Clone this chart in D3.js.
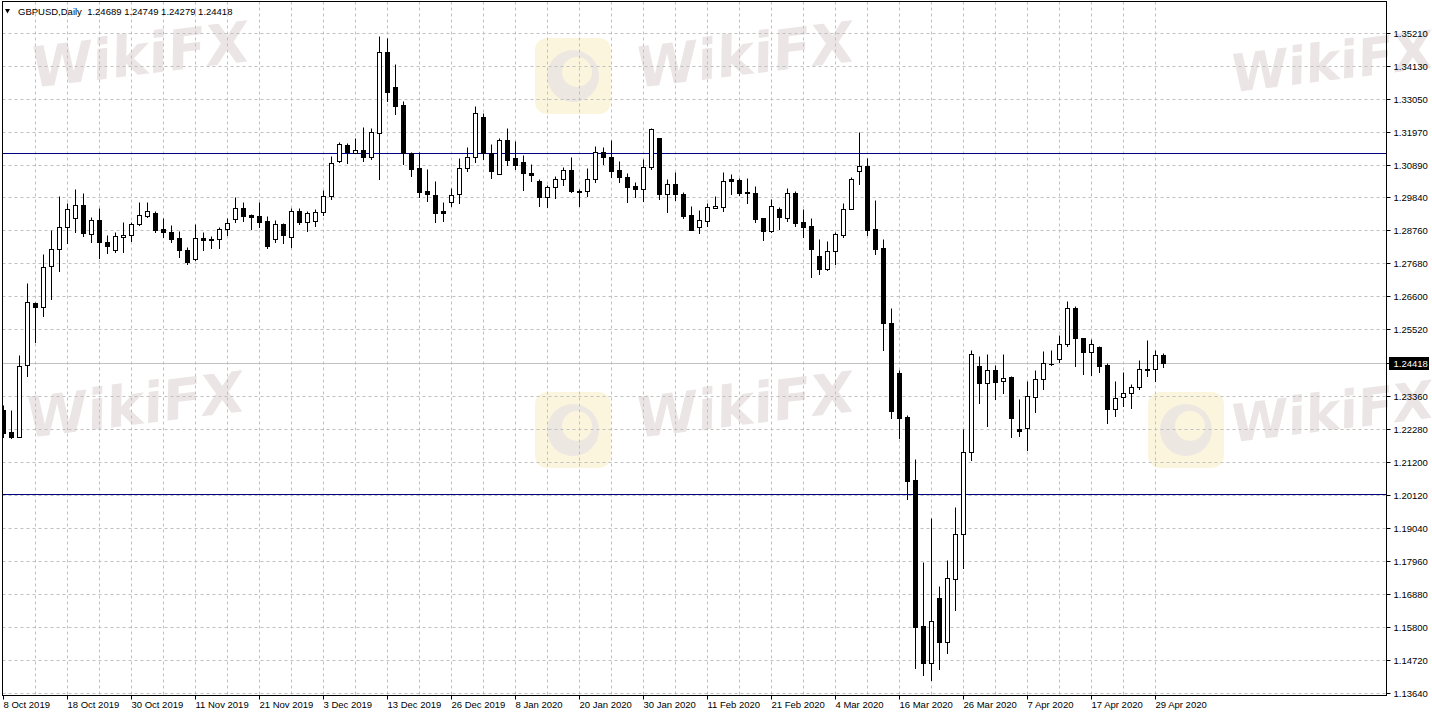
<!DOCTYPE html>
<html><head><meta charset="utf-8">
<script src="https://cdn.jsdelivr.net/npm/d3@7"></script>
<style>html,body{margin:0;padding:0;background:#fff;overflow:hidden}</style>
</head><body><svg id="c" width="1432" height="717"></svg>
<script>
// ---------- data ----------
const symbol = "GBPUSD", timeframe = "Daily";
const opens = [1.2289,1.2217,1.2202,1.2436,1.2638,1.2625,1.2759,1.2814,1.2886,1.2916,1.2959,1.2863,1.2910,1.2838,1.2812,1.2853,1.2860,1.2896,1.2924,1.2932,1.2880,1.2871,1.2850,1.2811,1.2783,1.2850,1.2847,1.2847,1.2880,1.2912,1.2948,1.2926,1.2923,1.2906,1.2847,1.2896,1.2855,1.2940,1.2903,1.2908,1.2937,1.2989,1.3103,1.3154,1.3130,1.3138,1.3117,1.3195,1.3458,1.3343,1.3286,1.3128,1.3080,1.3005,1.2992,1.2938,1.2970,1.2994,1.3079,1.3115,1.3245,1.3128,1.3059,1.3171,1.3111,1.3099,1.3062,1.3038,1.2986,1.3017,1.3043,1.3073,1.3006,1.3005,1.3043,1.3131,1.3115,1.3073,1.3049,1.3020,1.3010,1.3084,1.3177,1.2994,1.3026,1.2995,1.2925,1.2888,1.2908,1.2950,1.2953,1.3044,1.3041,1.3002,1.2999,1.2916,1.2875,1.2946,1.2916,1.2999,1.2903,1.2890,1.2792,1.2751,1.2809,1.2861,1.2945,1.3071,1.3086,1.2880,1.2817,1.2572,1.2409,1.2265,1.2060,1.1583,1.1463,1.1674,1.1532,1.1736,1.1883,1.2151,1.2432,1.2378,1.2420,1.2385,1.2398,1.2227,1.2229,1.2332,1.2389,1.2438,1.2455,1.2504,1.2621,1.2523,1.2479,1.2494,1.2436,1.2291,1.2330,1.2343,1.2363,1.2420,1.2422,1.24689];
const highs = [1.2305,1.2289,1.2469,1.2703,1.2643,1.2799,1.2876,1.2988,1.2964,1.3011,1.2997,1.2919,1.2948,1.2861,1.2872,1.2902,1.2904,1.2970,1.2970,1.2938,1.2916,1.2894,1.2875,1.2821,1.2896,1.2871,1.2857,1.2888,1.2916,1.2984,1.2968,1.2928,1.2968,1.2924,1.2910,1.2901,1.2948,1.2948,1.2940,1.2945,1.3008,1.3119,1.3164,1.3162,1.3177,1.3213,1.3211,1.3511,1.3504,1.3419,1.3299,1.3131,1.3131,1.3077,1.3038,1.2968,1.3013,1.3111,1.3150,1.3282,1.3261,1.3158,1.3177,1.3210,1.3169,1.3122,1.3093,1.3044,1.3024,1.3054,1.3082,1.3115,1.3012,1.3079,1.3152,1.3147,1.3171,1.3103,1.3062,1.3033,1.3108,1.3210,1.3179,1.3043,1.3068,1.3001,1.2955,1.2943,1.2964,1.2988,1.3068,1.3060,1.3046,1.3048,1.3021,1.2916,1.2978,1.2951,1.3014,1.3006,1.2946,1.2916,1.2848,1.2841,1.2870,1.2966,1.3051,1.3198,1.3111,1.2975,1.2847,1.2621,1.2420,1.2272,1.2128,1.1793,1.1935,1.1714,1.1799,1.1973,1.2227,1.2485,1.2465,1.2472,1.2436,1.2472,1.2400,1.2325,1.2385,1.2420,1.2482,1.2485,1.2534,1.2645,1.2629,1.2523,1.2521,1.2498,1.2444,1.2385,1.2414,1.2373,1.2452,1.2518,1.2485,1.24749];
const lows = [1.2201,1.2197,1.2201,1.2401,1.2512,1.2597,1.2653,1.2744,1.2836,1.2870,1.2858,1.2839,1.2785,1.2801,1.2806,1.2804,1.2842,1.2894,1.2921,1.2872,1.2855,1.2839,1.2790,1.2765,1.2779,1.2812,1.2817,1.2819,1.2861,1.2904,1.2908,1.2880,1.2888,1.2819,1.2837,1.2834,1.2823,1.2896,1.2875,1.2891,1.2926,1.2978,1.3100,1.3097,1.3128,1.3104,1.3108,1.3045,1.3299,1.3255,1.3093,1.3055,1.2986,1.2972,1.2902,1.2908,1.2957,1.2964,1.3071,1.3100,1.3109,1.3048,1.3059,1.3090,1.3076,1.3008,1.3038,1.2957,1.2951,1.2981,1.3024,1.3002,1.2957,1.2989,1.3033,1.3093,1.3049,1.3035,1.2970,1.2986,1.2973,1.3077,1.2978,1.2937,1.2975,1.2917,1.2877,1.2868,1.2890,1.2948,1.2940,1.2995,1.2992,1.2966,1.2904,1.2844,1.2872,1.2880,1.2908,1.2890,1.2855,1.2722,1.2733,1.2746,1.2766,1.2855,1.2945,1.3028,1.2861,1.2799,1.2485,1.2264,1.2198,1.1998,1.1447,1.1423,1.1406,1.1442,1.1494,1.1635,1.1773,1.2126,1.2313,1.2236,1.2325,1.2343,1.2202,1.2205,1.2158,1.2283,1.2356,1.2436,1.2447,1.2498,1.2434,1.2406,1.2403,1.2412,1.2245,1.2270,1.2303,1.2295,1.2356,1.2401,1.2385,1.24279];
const closes = [1.2214,1.2201,1.2434,1.2643,1.2625,1.2757,1.2814,1.2886,1.2945,1.2959,1.2866,1.2910,1.2837,1.2826,1.2857,1.2860,1.2896,1.2925,1.2938,1.2877,1.2872,1.2849,1.2811,1.2774,1.2850,1.2844,1.2844,1.2880,1.2899,1.2948,1.2924,1.2921,1.2904,1.2825,1.2896,1.2860,1.2940,1.2902,1.2932,1.2937,1.2989,1.3097,1.3157,1.3133,1.3138,1.3117,1.3196,1.3458,1.3329,1.3283,1.3128,1.3077,1.3002,1.2995,1.2934,1.2934,1.2992,1.3079,1.3116,1.3259,1.3128,1.3071,1.3171,1.3106,1.3091,1.3064,1.3058,1.2986,1.3017,1.3043,1.3073,1.3005,1.3001,1.3043,1.3131,1.3115,1.3069,1.3051,1.3019,1.3010,1.3084,1.3206,1.2994,1.3026,1.2994,1.2923,1.2878,1.2910,1.2951,1.2956,1.3037,1.3038,1.2999,1.2997,1.2913,1.2875,1.2956,1.2919,1.2997,1.2901,1.2888,1.2816,1.2749,1.2809,1.2864,1.2945,1.3043,1.3086,1.2877,1.2816,1.2572,1.2287,1.2264,1.2058,1.1581,1.1463,1.1599,1.1532,1.1739,1.1883,1.2151,1.2471,1.2378,1.2420,1.2382,1.2394,1.2264,1.2221,1.2335,1.2389,1.2442,1.2440,1.2504,1.2621,1.2523,1.2479,1.2504,1.2434,1.2291,1.2327,1.2343,1.2363,1.2422,1.2422,1.2468,1.24418];
const priceTicks = [1.35210,1.34130,1.33050,1.31970,1.30890,1.29840,1.28760,1.27680,1.26600,1.25520,1.23360,1.22280,1.21200,1.20120,1.19040,1.17960,1.16880,1.15800,1.14720,1.13640];
const dateTicks = ["8 Oct 2019","18 Oct 2019","30 Oct 2019","11 Nov 2019","21 Nov 2019","3 Dec 2019","13 Dec 2019","26 Dec 2019","8 Jan 2020","20 Jan 2020","30 Jan 2020","11 Feb 2020","21 Feb 2020","4 Mar 2020","16 Mar 2020","26 Mar 2020","7 Apr 2020","17 Apr 2020","29 Apr 2020"];
const levelLines = [1.3128, 1.2015];
const holidays = ["2019-12-25","2020-01-01"];
const firstDay = "2019-10-08";

// trading-day categories (weekdays, minus market holidays)
const fmt = d3.timeFormat("%-d %b %Y"), iso = d3.timeFormat("%Y-%m-%d");
const dates = [];
for (let d = d3.timeParse("%Y-%m-%d")(firstDay); dates.length < opens.length; d = d3.timeDay.offset(d, 1)) {
  const wd = d.getDay();
  if (wd === 0 || wd === 6 || holidays.includes(iso(d))) continue;
  dates.push(fmt(d));
}
const bars = dates.map((d, i) => ({d, o: opens[i], h: highs[i], l: lows[i], c: closes[i], i}));
const last = bars[bars.length - 1];

// ---------- layout ----------
const L = 2.5, R = 1386.5, T = 1.5, B = 695.5;
const FONT = "'Liberation Sans', Arial, sans-serif";
const svg = d3.select("#c");
const x = d3.scaleBand().domain(dates).range([-0.5, -0.5 + 8 * dates.length]).padding(0);
const cx = d => x(d) + x.bandwidth() / 2;
const y = d3.scaleLinear().domain([1.13640, 1.35210]).range([693, 33]);
const py = v => Math.round(y(v)) + 0.5;

svg.append("rect").attr("width", 1432).attr("height", 717).attr("fill", "#fff");

// watermark
const wm = svg.append("g").attr("pointer-events", "none");
[[140,55,56],[745,55,56],[1332,62,52],[135,405,56],[745,405,56],[1332,412,52]].forEach(([a,b,s]) => {
  wm.append("text").attr("transform", `translate(${a},${b}) rotate(-7) skewX(-8)`)
    .attr("text-anchor", "middle").attr("dominant-baseline", "central")
    .attr("font-family", "'DejaVu Sans', sans-serif").attr("font-weight", "bold").attr("font-size", s)
    .attr("fill", "#ebe5e5").text("WikiFX");
});
[[535,38],[535,392],[1148,392]].forEach(([a,b]) => {
  wm.append("rect").attr("x", a).attr("y", b).attr("width", 76).attr("height", 76).attr("rx", 12).attr("fill", "#fcf5de");
  wm.append("circle").attr("cx", a + 38).attr("cy", b + 38).attr("r", 26).attr("fill", "#ece7e1");
  wm.append("circle").attr("cx", a + 42).attr("cy", b + 34).attr("r", 15).attr("fill", "#fcf5de");
});

const plot = svg.append("g");
plot.append("clipPath").attr("id", "clip").append("rect").attr("x", L).attr("y", T).attr("width", R - L).attr("height", B - T);
const g = plot.append("g").attr("clip-path", "url(#clip)");

// grid
g.selectAll(".hg").data(priceTicks).join("line")
  .attr("x1", L).attr("x2", R).attr("y1", d => py(d)).attr("y2", d => py(d))
  .attr("stroke", "#c0c0c0").attr("stroke-dasharray", "3,3");
g.selectAll(".vg").data(bars.filter(b => b.i % 4 === 0 && b.i > 0)).join("line")
  .attr("x1", b => cx(b.d)).attr("x2", b => cx(b.d)).attr("y1", T).attr("y2", B)
  .attr("stroke", "#c0c0c0").attr("stroke-dasharray", "3,3");

// current price line & level lines
g.append("line").attr("x1", L).attr("x2", R).attr("y1", py(last.c)).attr("y2", py(last.c)).attr("stroke", "#c0c0c0");
g.selectAll(".lvl").data(levelLines).join("line")
  .attr("x1", L).attr("x2", R).attr("y1", d => py(d)).attr("y2", d => py(d)).attr("stroke", "#000080");

// candles
const cg = g.selectAll(".cd").data(bars).join("g");
cg.append("line").attr("x1", b => cx(b.d)).attr("x2", b => cx(b.d))
  .attr("y1", b => py(b.h)).attr("y2", b => py(b.l) + 0.5).attr("stroke", "#000");
cg.each(function(b) {
  const top = py(Math.max(b.o, b.c)), bot = py(Math.min(b.o, b.c));
  const sel = d3.select(this);
  if (bot - top < 1) {
    sel.append("line").attr("x1", cx(b.d) - 2.5).attr("x2", cx(b.d) + 2.5).attr("y1", top).attr("y2", top).attr("stroke", "#000");
  } else {
    sel.append("rect").attr("x", cx(b.d) - 2).attr("width", 4).attr("y", top).attr("height", bot - top)
      .attr("fill", b.c >= b.o ? "#fff" : "#000").attr("stroke", "#000");
  }
});

// frame
svg.append("rect").attr("x", L).attr("y", T).attr("width", R - L).attr("height", B - T)
  .attr("fill", "none").attr("stroke", "#000");

// price axis
const ya = svg.append("g").attr("transform", `translate(${R},0)`)
  .call(d3.axisRight(y).tickValues(priceTicks).tickSize(4).tickPadding(3).tickFormat(d3.format(".5f")));
ya.select(".domain").remove();
ya.selectAll(".tick line").attr("stroke", "#000");
ya.selectAll(".tick").attr("transform", d => `translate(0,${py(d)})`);
ya.selectAll("text").attr("font-family", FONT).attr("font-size", 9.5).attr("fill", "#000");

// current price label
const lp = svg.append("g").attr("transform", `translate(${R},${py(last.c)})`);
lp.append("line").attr("x1", 0).attr("x2", 4).attr("stroke", "#000");
lp.append("rect").attr("x", 2.5).attr("y", -6.5).attr("width", 40).attr("height", 13).attr("fill", "#000");
lp.append("text").attr("x", 7).attr("dy", "0.33em").attr("font-family", FONT).attr("font-size", 9.5)
  .attr("fill", "#fff").text(d3.format(".5f")(last.c));

// date axis
const xa = svg.append("g").attr("transform", `translate(0,${B})`)
  .call(d3.axisBottom(x).tickValues(dateTicks).tickSize(4).tickPadding(2));
xa.select(".domain").remove();
xa.selectAll(".tick line").attr("stroke", "#000");
xa.selectAll("text").attr("text-anchor", "start").attr("font-family", FONT).attr("font-size", 9.5).attr("fill", "#000");

// header
svg.append("path").attr("d", "M5,9 L10,9 L7.5,13.5 Z").attr("fill", "#000");
svg.append("text").attr("x", 18).attr("y", 15).attr("font-family", FONT).attr("font-size", 9.5).attr("fill", "#000")
  .attr("xml:space", "preserve")
  .text(`${symbol},${timeframe}  ${[last.o, last.h, last.l, last.c].map(d3.format(".5f")).join(" ")}`);
</script></body></html>
